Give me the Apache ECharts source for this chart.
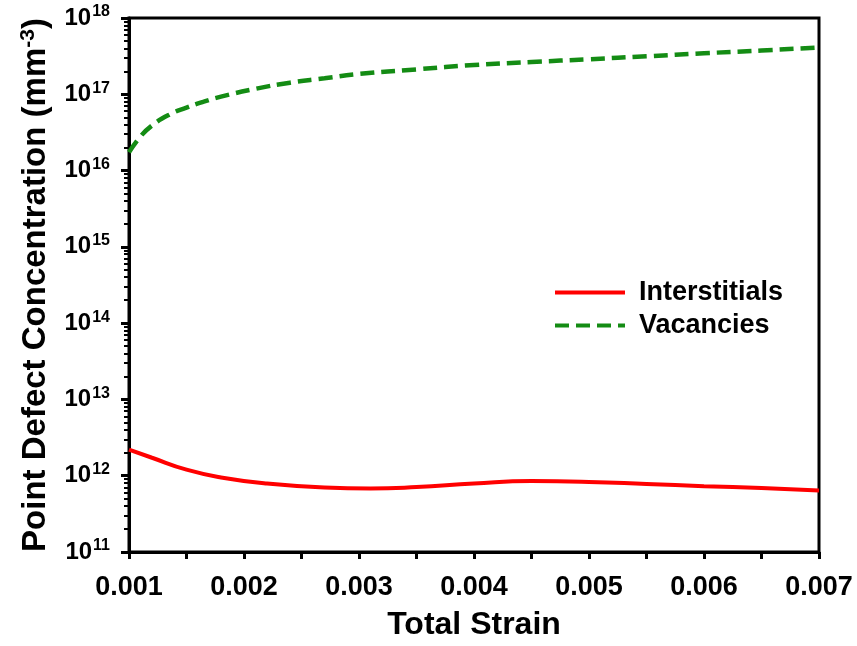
<!DOCTYPE html>
<html>
<head>
<meta charset="utf-8">
<script src="https://cdn.jsdelivr.net/npm/echarts@6/dist/echarts.min.js"></script>
<style>
  html, body { margin: 0; padding: 0; background: #fff; }
  #chart { width: 857px; height: 646px; }
</style>
</head>
<body>
<div id="chart"></div>
<script>
// total strain values
var strainVac = [0.001, 0.0011, 0.0012, 0.00135, 0.0015, 0.00165, 0.0018, 0.0021, 0.0024, 0.0027, 0.003, 0.0035, 0.004, 0.0045, 0.005, 0.0055, 0.006, 0.0065, 0.007]
var vacancies = [1.74e16, 2.8e16, 3.9e16, 5.4e16, 6.7e16, 8.0e16, 9.3e16, 1.18e17, 1.42e17, 1.62e17, 1.85e17, 2.12e17, 2.42e17, 2.65e17, 2.88e17, 3.15e17, 3.45e17, 3.75e17, 4.1e17]
var strainInt = [0.001, 0.0012, 0.0015, 0.0018, 0.0022, 0.0027, 0.0031, 0.0035, 0.004, 0.0045, 0.005, 0.0055, 0.006, 0.0065, 0.007]
var interstitials = [2.2e12, 1.72e12, 1.2e12, 9.5e11, 7.9e11, 7.0e11, 6.8e11, 7.1e11, 7.9e11, 8.5e11, 8.3e11, 7.8e11, 7.3e11, 6.9e11, 6.4e11]
var xTicks = ['0.001', '0.002', '0.003', '0.004', '0.005', '0.006', '0.007']
var decades = [11, 12, 13, 14, 15, 16, 17, 18]

function pairs (xs, ys) {
  return xs.map(function (x, i) { return [x, ys[i]] })
}

// 2..9 x 10^n minor ticks for the log axis
var minorTicks = []
decades.slice(0, -1).forEach(function (d) {
  for (var m = 2; m <= 9; m++) minorTicks.push(m * Math.pow(10, d))
})

var font = 'Liberation Sans, Arial, sans-serif'
var black = '#000'
var chart = echarts.init(document.getElementById('chart'))
chart.setOption({
  animation: false,
  grid: {
    left: 129, right: 38, top: 18, bottom: 91,
    show: true, borderColor: black, borderWidth: 3
  },
  legend: {
    orient: 'vertical',
    left: 548, top: 274,
    itemWidth: 70, itemHeight: 2, itemGap: 6,
    itemStyle: { opacity: 0 },
    lineStyle: { width: 4 },
    textStyle: { fontFamily: font, fontWeight: 'bold', fontSize: 27, color: black, padding: [0, 0, 0, 9] },
    data: ['Interstitials', 'Vacancies']
  },
  xAxis: {
    type: 'value',
    min: 0.001, max: 0.007, interval: 0.001,
    name: 'Total Strain',
    nameLocation: 'middle',
    nameGap: 57,
    nameTextStyle: { fontFamily: font, fontWeight: 'bold', fontSize: 32, color: black },
    axisLine: { lineStyle: { color: black, width: 3 } },
    axisTick: { length: 7, lineStyle: { color: black, width: 3 } },
    minorTick: { show: true, splitNumber: 2, length: 7, lineStyle: { color: black, width: 3 } },
    splitLine: { show: false },
    axisLabel: {
      margin: 22,
      fontFamily: font, fontWeight: 'bold', fontSize: 27, color: black,
      formatter: function (v) {
        var i = Math.round((v - 0.001) / 0.001)
        return xTicks[i] || ''
      }
    }
  },
  yAxis: [{
    type: 'log',
    position: 'left',
    min: 1e11, max: 1e18,
    name: 'Point Defect Concentration (mm{s|-3})',
    nameLocation: 'middle',
    nameGap: 76,
    nameTextStyle: {
      fontFamily: font, fontWeight: 'bold', fontSize: 33, color: black,
      rich: {
        s: { fontFamily: font, fontWeight: 'bold', fontSize: 21, color: black, verticalAlign: 'top', padding: [0, 0, 14, 0] }
      }
    },
    axisLine: { lineStyle: { color: black, width: 3 } },
    axisTick: { length: 8, lineStyle: { color: black, width: 3 } },
    splitLine: { show: false },
    axisLabel: {
      margin: 19,
      formatter: function (v) {
        return '{b|10}{s|' + Math.round(Math.log10(v)) + '}'
      },
      rich: {
        b: { fontFamily: font, fontWeight: 'bold', fontSize: 24, color: black },
        s: { fontFamily: font, fontWeight: 'bold', fontSize: 16, color: black, verticalAlign: 'top', padding: [0, 0, 12, 1] }
      }
    }
  }, {
    // second axis only carries the log-spaced minor ticks
    type: 'log',
    position: 'left',
    min: 1e11, max: 1e18,
    axisLine: { show: false },
    axisLabel: { show: false },
    splitLine: { show: false },
    axisTick: { length: 5, customValues: minorTicks, lineStyle: { color: black, width: 2 } }
  }],
  series: [{
    name: 'Interstitials',
    type: 'line',
    smooth: true,
    symbol: 'none',
    lineStyle: { color: '#ff0000', width: 4 },
    itemStyle: { color: '#ff0000' },
    data: pairs(strainInt, interstitials)
  }, {
    name: 'Vacancies',
    type: 'line',
    smooth: true,
    symbol: 'none',
    lineStyle: { color: '#148c14', width: 4.5, type: [14, 7] },
    itemStyle: { color: '#148c14' },
    data: pairs(strainVac, vacancies)
  }]
})
</script>
</body>
</html>
